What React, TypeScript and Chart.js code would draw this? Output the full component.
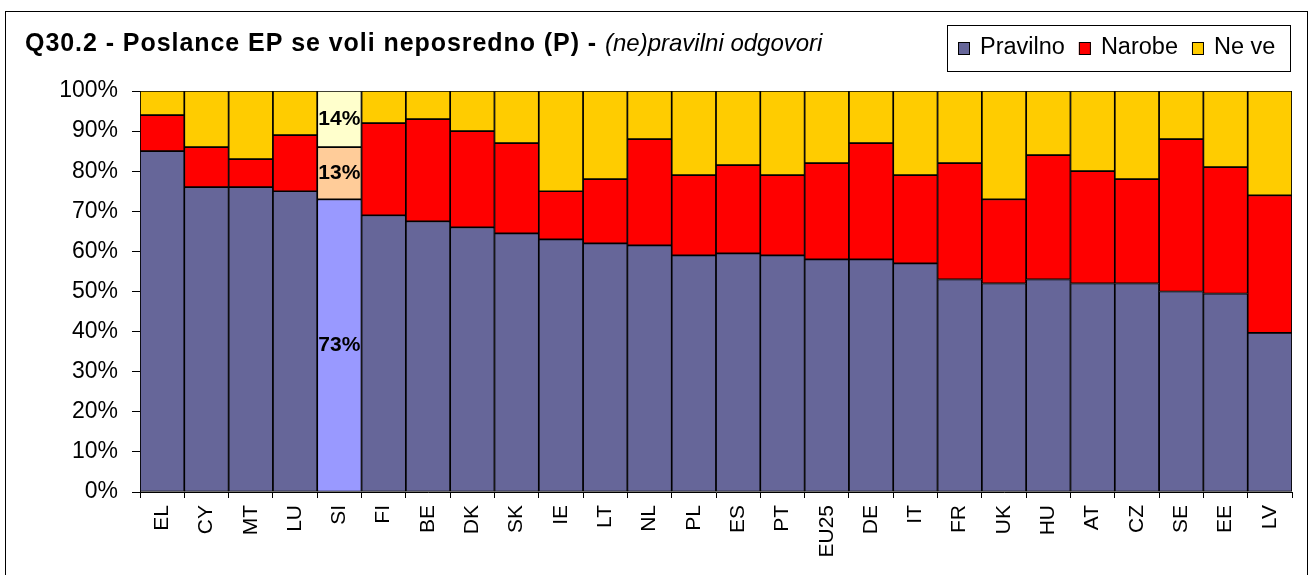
import React, { useEffect, useRef } from 'react';
import { Chart, registerables } from 'chart.js';

Chart.register(...registerables);

const TITLE_BOLD = 'Q30.2 - Poslance EP se voli neposredno (P) - ';
const TITLE_ITALIC = '(ne)pravilni odgovori';

const categories = ['EL', 'CY', 'MT', 'LU', 'SI', 'FI', 'BE', 'DK', 'SK', 'IE', 'LT', 'NL', 'PL', 'ES', 'PT', 'EU25', 'DE', 'IT', 'FR', 'UK', 'HU', 'AT', 'CZ', 'SE', 'EE', 'LV'];
const pravilno = [85, 76, 76, 75, 73, 69, 67.5, 66, 64.5, 63, 62, 61.5, 59, 59.5, 59, 58, 58, 57, 53, 52, 53, 52, 52, 50, 49.5, 39.7];
const narobe = [9, 10, 7, 14, 13, 23, 25.5, 24, 22.5, 12, 16, 26.5, 20, 22, 20, 24, 29, 22, 29, 21, 31, 28, 26, 38, 31.5, 34.3];
const neVe = [6, 14, 17, 11, 14, 8, 7, 10, 13, 25, 22, 12, 21, 18.5, 21, 18, 13, 21, 18, 27, 16, 20, 22, 12, 19, 26];

const seriesNames = ['Pravilno', 'Narobe', 'Ne ve'];
const seriesColors = ['#666699', '#FF0000', '#FFCC00'];
const highlightColors = ['#9999FF', '#FFCC99', '#FFFFCC'];
const highlightCategory = 'SI';

const FONT = '"Liberation Sans", Arial, Helvetica, sans-serif';
const W = 1311;
const H = 575;

const framePlugin = {
  id: 'frame',
  beforeDraw(chart: any) {
    const ctx = chart.ctx;
    ctx.save();
    ctx.fillStyle = '#ffffff';
    ctx.fillRect(0, 0, chart.width, chart.height);
    ctx.strokeStyle = '#000000';
    ctx.lineWidth = 1;
    ctx.strokeRect(5.5, 11.5, 1302, 700);
    ctx.restore();
  },
  afterDraw(chart: any) {
    const ctx = chart.ctx;
    ctx.save();
    // Title
    ctx.fillStyle = '#000000';
    ctx.textBaseline = 'alphabetic';
    ctx.textAlign = 'left';
    ctx.font = `bold 25px ${FONT}`;
    const boldTarget = 580;
    const w0 = ctx.measureText(TITLE_BOLD).width;
    const spacing = Math.max(0, (boldTarget - w0) / TITLE_BOLD.length);
    (ctx as any).letterSpacing = `${spacing.toFixed(2)}px`;
    ctx.fillText(TITLE_BOLD, 25, 51);
    (ctx as any).letterSpacing = '0px';
    ctx.font = `italic 24px ${FONT}`;
    ctx.fillText(TITLE_ITALIC, 25 + boldTarget, 51);

    // Legend
    ctx.fillStyle = '#ffffff';
    ctx.fillRect(947.5, 25.5, 343, 46);
    ctx.strokeStyle = '#000000';
    ctx.lineWidth = 1;
    ctx.strokeRect(947.5, 25.5, 343, 46);
    ctx.font = `23.5px ${FONT}`;
    let x = 958;
    seriesNames.forEach((name, i) => {
      ctx.fillStyle = seriesColors[i];
      ctx.fillRect(x, 42, 12, 13);
      ctx.strokeStyle = '#000000';
      ctx.strokeRect(x + 0.5, 42.5, 11, 12);
      ctx.fillStyle = '#000000';
      ctx.fillText(name, x + 22, 54);
      x += 22 + ctx.measureText(name).width + 14;
    });
    ctx.restore();
  },
  afterDatasetsDraw(chart: any) {
    const idx = categories.indexOf(highlightCategory);
    if (idx < 0) return;
    const ctx = chart.ctx;
    ctx.save();
    ctx.font = `bold 21px ${FONT}`;
    ctx.fillStyle = '#000000';
    ctx.textAlign = 'center';
    ctx.textBaseline = 'middle';
    chart.data.datasets.forEach((ds: any, d: number) => {
      const el = chart.getDatasetMeta(d).data[idx];
      if (!el) return;
      const cy = (el.y + el.base) / 2;
      ctx.fillText(`${Math.round(ds.data[idx])}%`, el.x, cy);
    });
    ctx.restore();
  },
};

export default function App() {
  const ref = useRef<HTMLCanvasElement | null>(null);

  useEffect(() => {
    if (!ref.current) return;
    const series = [pravilno, narobe, neVe];
    const chart = new Chart(ref.current, {
      type: 'bar',
      data: {
        labels: categories,
        datasets: series.map((values, i) => ({
          label: seriesNames[i],
          data: values,
          backgroundColor: categories.map((c) => (c === highlightCategory ? highlightColors[i] : seriesColors[i])),
          borderColor: '#000000',
          borderWidth: 1.2,
          borderSkipped: false,
          categoryPercentage: 1,
          barPercentage: 1,
        })),
      },
      options: {
        animation: false,
        responsive: false,
        maintainAspectRatio: false,
        devicePixelRatio: 1,
        layout: { padding: { top: 91, right: 19, left: 0, bottom: 0 } },
        plugins: {
          legend: { display: false },
          title: { display: false },
          tooltip: { enabled: false },
        },
        scales: {
          x: {
            stacked: true,
            grid: { display: true, drawOnChartArea: false, drawTicks: true, tickLength: 6, color: '#000000', offset: true },
            border: { display: true, color: '#000000', width: 1 },
            ticks: {
              font: { family: FONT, size: 21 },
              color: '#000000',
              minRotation: 90,
              maxRotation: 90,
              padding: 7,
              autoSkip: false,
            },
            afterFit(scale: any) {
              scale.height = 83;
            },
          },
          y: {
            stacked: true,
            min: 0,
            max: 100,
            ticks: {
              stepSize: 10,
              callback: (v: any) => `${v}%`,
              font: { family: FONT, size: 23 },
              color: '#000000',
              padding: 14,
            },
            grid: { display: true, drawOnChartArea: false, drawTicks: true, tickLength: 8, color: '#000000' },
            border: { display: true, color: '#000000', width: 1 },
            afterFit(scale: any) {
              scale.width = 140;
            },
          },
        },
      },
      plugins: [framePlugin],
    } as any);
    return () => chart.destroy();
  }, []);

  return (
    <div style={{ position: 'fixed', left: 0, top: 0, width: W, height: H, background: '#fff' }}>
      <canvas ref={ref} width={W} height={H} style={{ display: 'block', width: W, height: H }} />
    </div>
  );
}
